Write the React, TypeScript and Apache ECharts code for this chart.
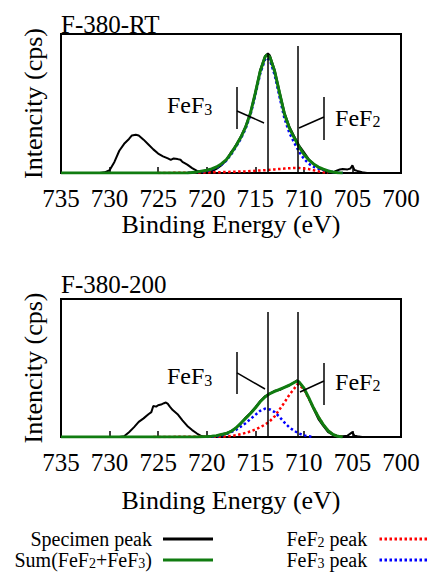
import React, { useEffect, useRef } from "react";
import * as echarts from "echarts";

const FONT = "Liberation Serif";

// ---- data: [binding energy (eV), intensity (relative)] ----
const topSpecimen: number[][] = [
  [731, 0], [730.5, 0.5], [730, 2], [729.5, 8], [729, 16], [728.5, 21], [728, 24.5],
  [727.7, 27], [727.3, 27.5], [727, 27], [726.5, 24], [726, 20.5], [725.5, 17],
  [725, 14], [724.5, 12], [724, 10.5], [723.7, 9.5], [723.4, 10.5], [723, 10],
  [722.7, 9.5], [722.5, 8], [722, 6], [721.5, 3.5], [721, 1.5], [720.5, 0.5], [720, 0.5],
  [719.5, 1.2], [719, 3], [718.5, 5.5], [718, 9], [717.5, 15], [717.2, 17.5], [717, 20],
  [716.5, 26], [716, 33.5], [715.5, 43.5], [715, 58], [714.5, 74], [714, 84],
  [713.7, 86], [713.5, 84.5], [713, 74], [712.5, 58.5], [712, 43.5], [711.5, 33.5],
  [711, 26.5], [710.5, 20], [710, 15], [709.5, 10], [709, 6.5], [708.5, 3.8], [708, 2],
  [707.5, 0.8], [707, 0.2], [706.7, 1.5], [706.3, 2.5], [706, 2.8], [705.5, 2.6],
  [705.2, 3.2], [705, 5.5], [704.8, 2.2], [704.5, 1.5], [704, 0.5], [703.5, 0],
];
const topSum: number[][] = [
  [735, 0], [722, 0], [721, 0.8], [720, 2], [719.5, 3], [719, 4.3], [718.5, 6.5],
  [718, 9.5], [717.5, 14], [717, 19.5], [716.5, 25.5], [716, 33], [715.5, 43],
  [715, 57.5], [714.5, 73], [714, 83.5], [713.8, 85], [713.5, 83.5], [713, 73],
  [712.5, 57.5], [712, 42.5], [711.5, 32.5], [711, 25.5], [710.5, 19], [710, 13.5],
  [709.5, 9.5], [709, 6.5], [708.5, 4.3], [708, 2.8], [707.5, 1.5], [707, 0.7],
  [706.5, 0.2], [706, 0],
];
const topFeF2: number[][] = [
  [725, 0], [722, 0.2], [720, 0.4], [718, 0.7], [716, 1.2], [714, 2], [713, 2.6],
  [712, 3.2], [711, 3.6], [710.5, 3.6], [710, 3.3], [709.5, 2.8], [709, 2],
  [708.5, 1.2], [708, 0.5], [707.5, 0],
];
const topFeF3: number[][] = [
  [722, 0], [721, 0.6], [720, 1.6], [719.5, 2.5], [719, 3.7], [718.5, 5.8], [718, 8.8],
  [717.5, 13.2], [717, 18.6], [716.5, 24.5], [716, 31.8], [715.5, 41.7], [715, 56],
  [714.5, 71.3], [714, 81.5], [713.8, 83], [713.5, 81.2], [713, 70.4], [712.5, 54.6],
  [712, 39.3], [711.5, 29], [711, 21.9], [710.5, 15.4], [710, 10.2], [709.5, 6.7],
  [709, 4.5], [708.5, 3.1], [708, 2.3], [707.5, 1.5], [707, 0.7], [706.5, 0.2], [706, 0],
];

const botSpecimen: number[][] = [
  [729, 0], [728.5, 0.5], [728, 3.5], [727.5, 7], [727, 11], [726.5, 13.5], [726, 16.5],
  [725.7, 18], [725.5, 22.5], [725.2, 22], [725, 23], [724.7, 23.5], [724.4, 24.5],
  [724.2, 25], [724, 24], [723.8, 22], [723.5, 19.5], [723, 16.5], [722.5, 12],
  [722, 8], [721.5, 5], [721, 2.5], [720.5, 0.5], [720, 0], [719.5, 0.5], [719, 1],
  [718.5, 1.8], [718, 2.8], [717.5, 4.2], [717, 6.5], [716.5, 9.5], [716, 14],
  [715.5, 17.5], [715, 21.5], [714.5, 26], [714, 29.5], [713.5, 31.5], [713, 33.5],
  [712.5, 34], [712, 36], [711.5, 37.5], [711, 39.5], [710.7, 41], [710.5, 40],
  [710, 35], [709.5, 28], [709, 20.5], [708.5, 13], [708, 8], [707.5, 3.5], [707, 1.5],
  [706.5, 0.5], [706, 0.5], [705.5, 1], [705, 3.5], [704.8, 1], [704.5, 0.5], [704, 0],
];
const botSum: number[][] = [
  [735, 0], [721, 0], [720, 0.3], [719.5, 0.6], [719, 1], [718.5, 1.8], [718, 2.5],
  [717.5, 4], [717, 6.5], [716.5, 10], [716, 13.5], [715.5, 17], [715, 21],
  [714.5, 25.5], [714, 29], [713.5, 31.5], [713, 33], [712.5, 34.5], [712, 36],
  [711.5, 37.5], [711, 39.5], [710.7, 40.5], [710.5, 40], [710, 35.5], [709.5, 28.5],
  [709, 21], [708.5, 14.5], [708, 9], [707.5, 4.5], [707, 1.8], [706.5, 0.5], [706, 0],
];
const botFeF2: number[][] = [
  [725.5, 0], [718, 0.3], [717, 1.2], [716.5, 2], [716, 3], [715.5, 4], [715, 5.5],
  [714.5, 7], [714, 9], [713.5, 11.5], [713, 15], [712.5, 20], [712, 25], [711.5, 30.5],
  [711, 35], [710.7, 38], [710.5, 38], [710, 34.5], [709.5, 28], [709, 21], [708.5, 14.5],
  [708, 9], [707.5, 4.5], [707, 1.8], [706.5, 0.5], [706, 0],
];
const botFeF3: number[][] = [
  [720, 0], [719, 0.5], [718, 2], [717.5, 3.5], [717, 5], [716.5, 7.5], [716, 10],
  [715.5, 13], [715, 16], [714.5, 19], [714, 20.5], [713.5, 20], [713, 18], [712.5, 14.5],
  [712, 10.5], [711.5, 7], [711, 4.5], [710.5, 2.5], [710, 1.2], [709.5, 0.5], [709, 0],
];

// ---- annotations (data coordinates) ----
const refLineE = [713.7, 710.6];
const topRefTop = [86.3, 91.4];
const botRefTop = [90.6, 90.6];
const topBrackets = [
  [[716.88, 31.7], [716.88, 61.9]], [[716.88, 44.6], [714.1, 36.0]],
  [[707.93, 23.7], [707.93, 54.7]], [[707.93, 40.3], [710.5, 32.4]],
];
const botBrackets = [
  [[716.88, 31.2], [716.88, 61.6]], [[716.88, 46.4], [714.0, 34.8]],
  [[707.93, 23.2], [707.93, 53.6]], [[707.93, 40.6], [710.4, 32.6]],
];
const topLabels = [
  { name: "FeF3", value: [724.09, 48.9] },
  { name: "FeF2", value: [706.79, 39.6] },
];
const botLabels = [
  { name: "FeF3", value: [724.09, 44.2] },
  { name: "FeF2", value: [706.79, 40.2] },
];
const titles = ["F-380-RT", "F-380-200"];
const NAMES = ["Specimen peak", "Sum(FeF2+FeF3)", "FeF2 peak", "FeF3 peak"];
const RICH_NAMES: Record<string, string> = {
  "Specimen peak": "{n|Specimen peak}",
  "Sum(FeF2+FeF3)": "{n|Sum(FeF}{s|2}{n|+FeF}{s|3}{n|)}",
  "FeF2 peak": "{n|FeF}{s|2}{n| peak}",
  "FeF3 peak": "{n|FeF}{s|3}{n| peak}",
  FeF2: "{n|FeF}{s|2}",
  FeF3: "{n|FeF}{s|3}",
};

const GREEN = "#107c10";
const SOLID_ICON = "path://M0,0H50V3H0Z";
const DOT_ICON =
  "path://" +
  [0, 5, 10, 15, 20, 25, 30, 35, 40, 45].map((x) => `M${x},0h2.5v3h-2.5Z`).join("");

function buildOption() {
  const grids = [
    { left: 61, top: 34, width: 340, height: 139 },
    { left: 61, top: 299, width: 340, height: 138 },
  ].map((g) => ({ ...g, show: true, borderColor: "#000", borderWidth: 2, containLabel: false }));

  const nameGaps = [35, 50];
  const xAxes = [0, 1].map((i) => ({
    type: "value",
    gridIndex: i,
    min: 700,
    max: 735,
    interval: 5,
    inverse: true,
    axisLine: { onZero: false, lineStyle: { color: "#000", width: 2 } },
    axisTick: { inside: true, length: 6, lineStyle: { color: "#000", width: 1.5 } },
    axisLabel: { color: "#000", fontSize: 25, fontFamily: FONT, margin: 13 },
    splitLine: { show: false },
    name: "Binding Energy (eV)",
    nameLocation: "middle",
    nameGap: nameGaps[i],
    nameTextStyle: { color: "#000", fontSize: 26, fontFamily: FONT },
  }));
  const yAxes = [0, 1].map((i) => ({
    type: "value",
    gridIndex: i,
    min: 0,
    max: 100,
    axisLine: { show: true, onZero: false, lineStyle: { color: "#000", width: 2 } },
    axisTick: { show: false },
    axisLabel: { show: false },
    splitLine: { show: false },
    name: "Intencity (cps)",
    nameLocation: "middle",
    nameGap: 15,
    nameTextStyle: { color: "#000", fontSize: 26, fontFamily: FONT },
  }));

  const lineSeries = (i: number, name: string, data: number[][], color: string, width: number, dotted: boolean, z: number) => ({
    type: "line",
    name,
    xAxisIndex: i,
    yAxisIndex: i,
    data,
    symbol: "none",
    showSymbol: false,
    smooth: false,
    z,
    itemStyle: { color },
    lineStyle: { color, width, type: dotted ? [2.5, 2.5] : "solid" },
  });

  const labelRich = {
    n: { fontSize: 24, fontFamily: FONT, color: "#000", lineHeight: 24, verticalAlign: "middle" },
    s: { fontSize: 16, fontFamily: FONT, color: "#000", lineHeight: 8, verticalAlign: "bottom" },
  };

  const annotSeries = (i: number, labels: any[], refTop: number[], brackets: number[][][]) => ({
    type: "scatter",
    name: "annot",
    xAxisIndex: i,
    yAxisIndex: i,
    symbolSize: 0,
    z: 5,
    data: labels,
    itemStyle: { color: "#000", opacity: 1 },
    label: {
      show: true,
      position: "right",
      distance: 0,
      color: "#000",
      opacity: 1,
      fontFamily: FONT,
      fontSize: 24,
      formatter: (p: any) => RICH_NAMES[p.name],
      rich: labelRich,
    },
    markLine: {
      silent: true,
      symbol: ["none", "none"],
      label: { show: false },
      lineStyle: { color: "#000", width: 1.5, type: "solid", opacity: 1 },
      data: [
        ...refLineE.map((e, k) => [{ coord: [e, 0] }, { coord: [e, refTop[k]] }]),
        ...brackets.map((b) => [{ coord: b[0] }, { coord: b[1] }]),
      ],
    },
  });

  const series: any[] = [];
  const sets = [
    [topSpecimen, topSum, topFeF2, topFeF3],
    [botSpecimen, botSum, botFeF2, botFeF3],
  ];
  sets.forEach((s, i) => {
    series.push(lineSeries(i, NAMES[0], s[0], "#000", 2, false, 1));
    series.push(lineSeries(i, NAMES[2], s[2], "#ff0000", 2.5, true, 2));
    series.push(lineSeries(i, NAMES[3], s[3], "#0000ff", 2.5, true, 2));
    series.push(lineSeries(i, NAMES[1], s[1], GREEN, 3, false, 3));
  });
  series.push(annotSeries(0, topLabels, topRefTop, topBrackets));
  series.push(annotSeries(1, botLabels, botRefTop, botBrackets));

  const legendRich = {
    n: { fontSize: 20, fontFamily: FONT, color: "#000", lineHeight: 20, verticalAlign: "middle" },
    s: { fontSize: 14, fontFamily: FONT, color: "#000", lineHeight: 6, verticalAlign: "bottom" },
  };
  const legendBase = {
    orient: "vertical",
    align: "right",
    top: 529,
    itemWidth: 50,
    itemHeight: 3,
    itemGap: 1,
    padding: 0,
    formatter: (name: string) => RICH_NAMES[name],
    textStyle: { fontSize: 20, fontFamily: FONT, color: "#000", padding: [0, 6, 0, 0], rich: legendRich },
  };

  return {
    animation: false,
    backgroundColor: "#fff",
    textStyle: { fontFamily: FONT },
    title: titles.map((t, i) => ({
      text: t,
      left: 61,
      top: i === 0 ? 12 : 272,
      padding: 0,
      textStyle: { fontSize: 25, fontWeight: "normal", fontFamily: FONT, color: "#000" },
    })),
    grid: grids,
    xAxis: xAxes,
    yAxis: yAxes,
    legend: [
      {
        ...legendBase,
        right: 214,
        data: [
          { name: NAMES[0], icon: SOLID_ICON },
          { name: NAMES[1], icon: SOLID_ICON },
        ],
      },
      {
        ...legendBase,
        right: 0,
        data: [
          { name: NAMES[2], icon: DOT_ICON },
          { name: NAMES[3], icon: DOT_ICON },
        ],
      },
    ],
    series,
  };
}

export default function App() {
  const ref = useRef<HTMLDivElement>(null);
  useEffect(() => {
    document.body.style.margin = "0";
    const chart = echarts.init(ref.current!, null, { renderer: "svg" });
    chart.setOption(buildOption() as any);
    return () => chart.dispose();
  }, []);
  return <div ref={ref} style={{ position: "fixed", left: 0, top: 0, width: 427, height: 575 }} />;
}
